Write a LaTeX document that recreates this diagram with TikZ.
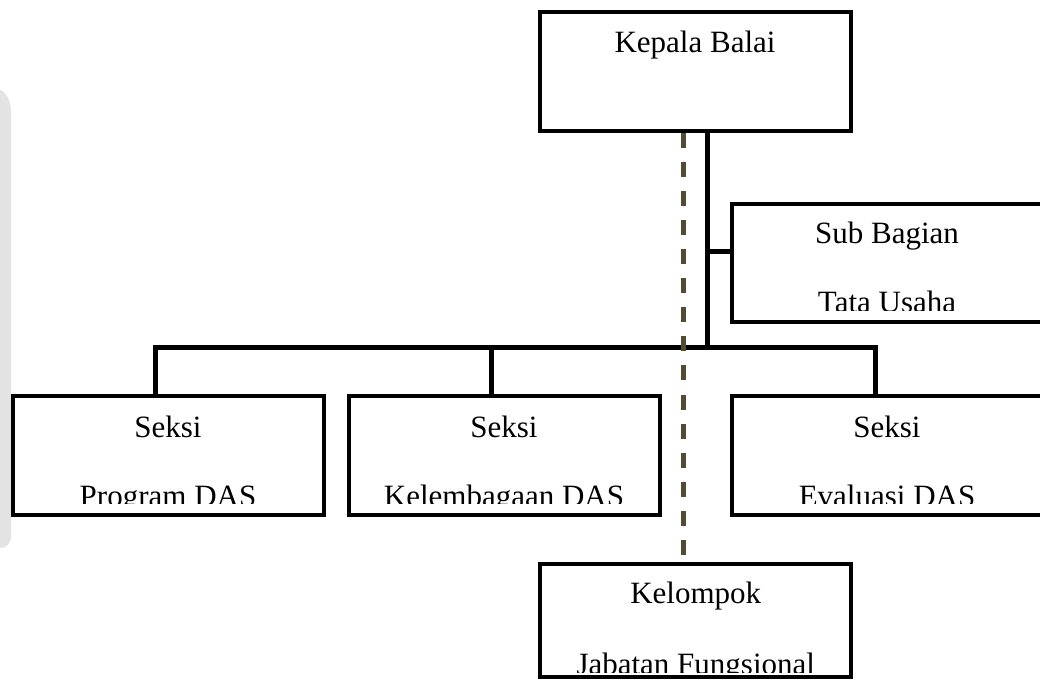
\documentclass[tikz,border=0pt]{standalone}
\usepackage{fontspec}
\setmainfont{Liberation Serif}
\definecolor{dashcol}{RGB}{82,76,54}
\begin{document}
\begin{tikzpicture}[x=1pt,y=-1pt,
  box/.style={draw=black, line width=4pt, fill=white, minimum width=311pt, inner sep=0pt, outer sep=0pt},
  conn/.style={line width=5pt, draw=black, line join=miter},
  dashline/.style={line width=4.5pt, draw=dashcol, dash pattern=on 15pt off 14.1pt},
  lbl/.style={font=\fontsize{31}{37}\selectfont, anchor=base, inner sep=0pt}]
\useasboundingbox (0,0) rectangle (1040,683);
% faint watermark at left edge
\fill[gray!22] (0,90) .. controls (6,92) and (11,100) .. (11,112) -- (11,536) .. controls (11,544) and (6,548) .. (0,548) -- cycle;
% boxes
\node[box, minimum height=119pt] (kepala) at (695,71) {};
\node[box, minimum height=118pt] (sub) at (887,263) {};
\node[box, minimum height=119.5pt] (prog) at (168,455.25) {};
\node[box, minimum height=119.5pt] (lemb) at (504,455.25) {};
\node[box, minimum height=119.5pt] (eval) at (887,455.25) {};
\node[box, minimum height=113pt] (kel) at (695.75,620) {};
% connector points
\coordinate (trunk) at (707.5,347.5);
\coordinate (sbj) at (707.5,251.5);
\coordinate (bl) at (155.5,347.5);
\coordinate (bm) at (491.5,347.5);
\coordinate (br) at (875,347.5);
\coordinate (dend) at (683.5,555);
% solid connectors
\draw[conn] (trunk |- kepala.south) -- (trunk);
\draw[conn] (sbj) -- (sbj -| sub.west);
\draw[conn] (bl |- prog.north) -- (bl) -- (br) -- (br |- eval.north);
\draw[conn] (bm) -- (bm |- lemb.north);
% dashed connector
\draw[dashline] (dend) -- (dend |- kepala.south);
% texts
\node[lbl] (tk) at (695,52) {Kepala Balai};
\begin{scope}
  \clip (731.5,203.7) rectangle (1042.5,310);
  \node[lbl] (ts1) at (887,243) {Sub Bagian};
  \node[lbl] (ts2) at (887,312) {Tata Usaha};
\end{scope}
\begin{scope}
  \clip (0,395.5) rectangle (1040,503);
  \node[lbl] (tp1) at (168,437) {Seksi};
  \node[lbl] (tp2) at (168,506) {Program DAS};
  \node[lbl] (tl1) at (504,437) {Seksi};
  \node[lbl] (tl2) at (504,506) {Kelembagaan DAS};
  \node[lbl] (te1) at (887,437) {Seksi};
  \node[lbl] (te2) at (887,506) {Evaluasi DAS};
\end{scope}
\begin{scope}
  \clip (540,563.5) rectangle (851.5,672);
  \node[lbl] (tk1) at (695.75,603) {Kelompok};
  \node[lbl] (tk2) at (695.75,674) {Jabatan Fungsional};
\end{scope}
\end{tikzpicture}
\end{document}
